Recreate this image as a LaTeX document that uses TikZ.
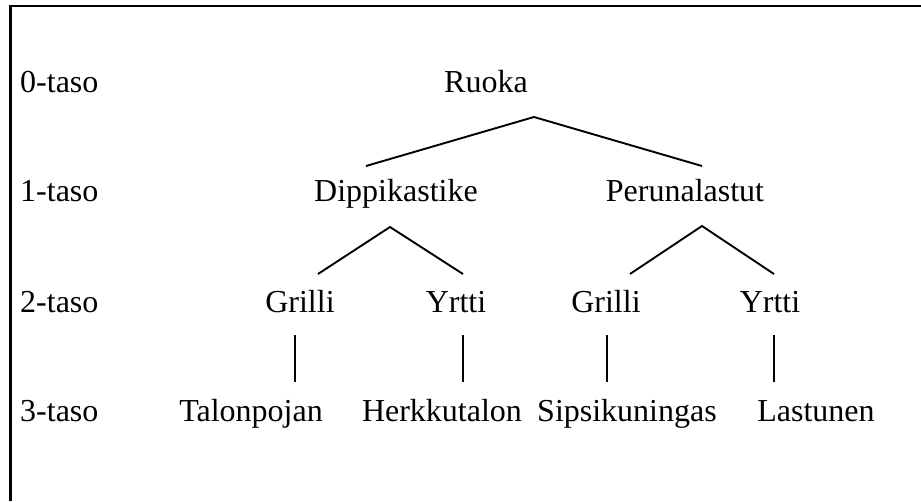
\documentclass[tikz,border=0pt]{standalone}
\usepackage{fontspec}
\setmainfont{Liberation Serif}
\usepackage{tikz}
\usetikzlibrary{positioning}

\begin{document}
\begin{tikzpicture}[x=1pt, y=-1pt]
	% Define styles
	\tikzset{word/.style={anchor=base, inner sep=0pt, font=\fontsize{32}{38}\selectfont}}
	\tikzset{levelname/.style={word, anchor=base west}}
	\tikzset{branch/.style={line width=1.9pt, line join=miter}}
	
	\useasboundingbox (0,0) rectangle (921,501);
	
	% Frame (top and left only)
	\draw[line width=2.9pt] (921,6) -- (10.7,6) -- (10.7,501);
	
	% Level names
	\node[levelname] (taso0) at (20, 92) {0-taso};
	\node[levelname] (taso1) at (20, 201) {1-taso};
	\node[levelname] (taso2) at (20, 312) {2-taso};
	\node[levelname] (taso3) at (20, 421) {3-taso};
	
	% Level 0
	\node[word] (ruoka) at (486, 92) {Ruoka};
	
	% Level 1
	\node[word] (dippi) at (396, 201) {Dippikastike};
	\node[word] (peruna) at (685, 201) {Perunalastut};
	
	% Level 2
	\node[word] (grilliA) at (300, 312) {Grilli};
	\node[word] (yrttiA) at (456, 312) {Yrtti};
	\node[word] (grilliB) at (606, 312) {Grilli};
	\node[word] (yrttiB) at (770, 312) {Yrtti};
	
	% Level 3
	\node[word] (talonpojan) at (251, 421) {Talonpojan};
	\node[word] (herkkutalon) at (442, 421) {Herkkutalon};
	\node[word] (sipsikuningas) at (627, 421) {Sipsikuningas};
	\node[word] (lastunen) at (816, 421) {Lastunen};
	
	% Branch points
	\coordinate (ruoka-s) at (534, 117);
	\coordinate (dippi-n) at (366, 166);
	\coordinate (peruna-n) at (702, 166);
	\coordinate (dippi-s) at (390, 227);
	\coordinate (peruna-s) at (702, 226);
	\coordinate (grilliA-n) at (318, 274);
	\coordinate (yrttiA-n) at (463, 274);
	\coordinate (grilliB-n) at (630, 274);
	\coordinate (yrttiB-n) at (774, 274);
	\foreach \a/\x in {grilliA/295, yrttiA/463, grilliB/607, yrttiB/774} {
		\coordinate (\a-s) at (\x, 335);
		\coordinate (\a-t) at (\x, 382);
	}
	
	% Branches
	\draw[branch] (dippi-n) -- (ruoka-s) -- (peruna-n);
	\draw[branch] (grilliA-n) -- (dippi-s) -- (yrttiA-n);
	\draw[branch] (grilliB-n) -- (peruna-s) -- (yrttiB-n);
	\foreach \a in {grilliA, yrttiA, grilliB, yrttiB}
		\draw[branch] (\a-s) -- (\a-t);
\end{tikzpicture}
\end{document}
